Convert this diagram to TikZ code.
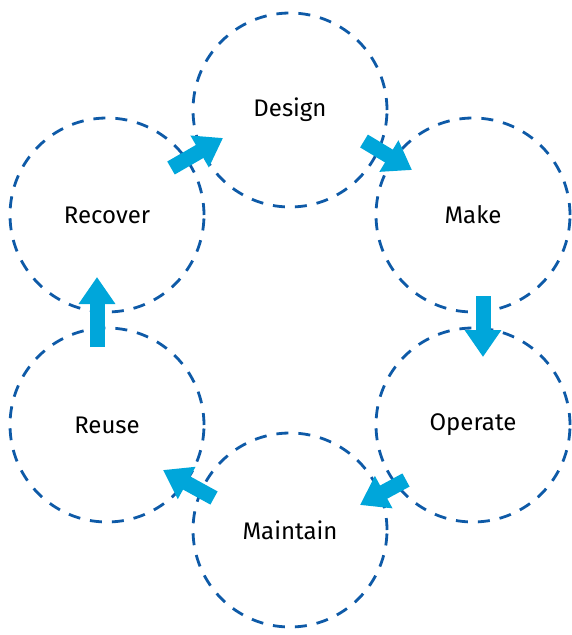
\documentclass[tikz,border=0pt]{standalone}
\usepackage{fontspec}
\setmainfont{Fira Sans}
\usetikzlibrary{arrows.meta}
\definecolor{ringblue}{HTML}{0E5AA7}
\definecolor{arrowcyan}{HTML}{00A6DA}
\begin{document}
\begin{tikzpicture}[x=1pt,y=-1pt,
  stage/.style={circle,draw=ringblue,line width=2.8pt,dash pattern=on 12pt off 10pt,
    minimum size=194pt,inner sep=0pt,font=\fontsize{24}{28}\selectfont,text=black},
  flow/.style={draw=arrowcyan,line width=15pt,-{Triangle[width=35pt,length=27pt]},arrowcyan}]
\useasboundingbox (0,0) rectangle (571,635);
\node[stage] (design) at (290,110) {Design};
\node[stage] (make) at (473,215) {Make};
\node[stage] (operate) at (473,425) {Operate};
\node[stage] (maintain) at (290,530) {Maintain};
\node[stage] (reuse) at (107,425) {Reuse};
\node[stage] (recover) at (107,215) {Recover};
\coordinate (a1s) at (171,168); \coordinate (a1e) at (223,138);
\coordinate (a2s) at (364,141); \coordinate (a2e) at (412,170);
\coordinate (a3s) at (483,296); \coordinate (a3e) at (483,357);
\coordinate (a4s) at (406,480); \coordinate (a4e) at (360,505);
\coordinate (a5s) at (214,498); \coordinate (a5e) at (163,470);
\coordinate (a6s) at (97,347);  \coordinate (a6e) at (97,277);
\draw[flow] (a1s) -- (a1e);
\draw[flow] (a2s) -- (a2e);
\draw[flow] (a3s) -- (a3e);
\draw[flow] (a4s) -- (a4e);
\draw[flow] (a5s) -- (a5e);
\draw[flow] (a6s) -- (a6e);
\end{tikzpicture}
\end{document}
